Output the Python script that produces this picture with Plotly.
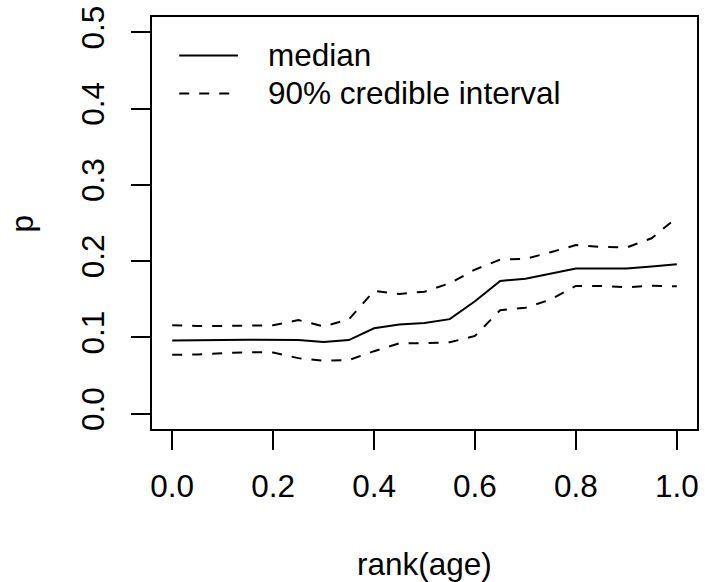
import plotly.graph_objects as go

rank_age = [0.0, 0.05, 0.1, 0.15, 0.2, 0.25, 0.3, 0.35, 0.4, 0.45, 0.5,
            0.55, 0.6, 0.65, 0.7, 0.75, 0.8, 0.85, 0.9, 0.95, 1.0]
median = [0.096, 0.096, 0.0965, 0.097, 0.097, 0.0965, 0.094, 0.0965, 0.112, 0.117, 0.119,
          0.124, 0.1475, 0.174, 0.177, 0.184, 0.1905, 0.1905, 0.1905, 0.193, 0.196]
upper90 = [0.116, 0.115, 0.115, 0.1155, 0.116, 0.1228, 0.1145, 0.1237, 0.161, 0.157, 0.16,
           0.171, 0.189, 0.202, 0.203, 0.2117, 0.221, 0.2187, 0.2178, 0.23, 0.257]
lower90 = [0.0772, 0.0776, 0.0794, 0.0807, 0.0803, 0.0729, 0.0694, 0.0703, 0.082, 0.0924, 0.0924,
           0.0937, 0.102, 0.1358, 0.1389, 0.1497, 0.1675, 0.1675, 0.1658, 0.1679, 0.167]

x_ticks = [0.0, 0.2, 0.4, 0.6, 0.8, 1.0]
x_ticklabels = ["0.0", "0.2", "0.4", "0.6", "0.8", "1.0"]
y_ticks = [0.0, 0.1, 0.2, 0.3, 0.4, 0.5]
y_ticklabels = ["0.0", "0.1", "0.2", "0.3", "0.4", "0.5"]
legend_labels = ["median", "90% credible interval"]

FONT = "Liberation Sans, Arial, sans-serif"
FS = 31.5
DASH = "10px,10px"

fig = go.Figure()
fig.add_trace(go.Scatter(x=rank_age, y=median, mode="lines", name=legend_labels[0],
                         line=dict(color="black", width=2)))
fig.add_trace(go.Scatter(x=rank_age, y=upper90, mode="lines", name=legend_labels[1],
                         line=dict(color="black", width=2, dash=DASH)))
fig.add_trace(go.Scatter(x=rank_age, y=lower90, mode="lines", name=legend_labels[1],
                         line=dict(color="black", width=2, dash=DASH), showlegend=False))

W, H = 705, 582
ml, mr, mt, mb = 152, 6, 14, 153
pw = W - ml - mr
ph = H - mt - mb

def px_to_paper_x(px):
    return (px - ml) / pw

def px_to_paper_y(py):
    return (H - mb - py) / ph

# custom legend (R-style)
for lab, dash, ypx in [(legend_labels[0], "solid", 52.7), (legend_labels[1], DASH, 91)]:
    fig.add_shape(type="line", xref="paper", yref="paper",
                  x0=px_to_paper_x(179.3), x1=px_to_paper_x(238.3),
                  y0=px_to_paper_y(ypx), y1=px_to_paper_y(ypx),
                  line=dict(color="black", width=2, dash=dash))
    fig.add_annotation(xref="paper", yref="paper", x=px_to_paper_x(266), y=px_to_paper_y(ypx),
                       xanchor="left", yanchor="middle", text=lab, showarrow=False,
                       font=dict(family=FONT, size=FS, color="black"))

# axis titles
fig.add_annotation(xref="paper", yref="paper", x=0.5, y=px_to_paper_y(565),
                   xanchor="center", yanchor="middle", text="rank(age)", showarrow=False,
                   font=dict(family=FONT, size=FS, color="black"))
fig.add_annotation(xref="paper", yref="paper", x=px_to_paper_x(22), y=0.5,
                   xanchor="center", yanchor="middle", text="p", textangle=-90, showarrow=False,
                   font=dict(family=FONT, size=FS, color="black"))

fig.update_layout(
    width=W, height=H,
    margin=dict(l=ml, r=mr, t=mt, b=mb, pad=0),
    paper_bgcolor="white", plot_bgcolor="white",
    showlegend=False,
    font=dict(family=FONT, size=FS, color="black"),
)
fig.update_xaxes(range=[-0.04, 1.04], tickvals=x_ticks, ticktext=x_ticklabels,
                 showgrid=False, zeroline=False, showline=True, mirror=True,
                 linecolor="black", linewidth=2, ticks="outside", ticklen=19,
                 tickwidth=2, tickcolor="black", ticklabelstandoff=9,
                 tickfont=dict(family=FONT, size=FS, color="black"))
fig.update_yaxes(range=[-0.02, 0.52], tickvals=y_ticks, ticktext=y_ticklabels,
                 showgrid=False, zeroline=False, showline=True, mirror=True,
                 linecolor="black", linewidth=2, ticks="outside", ticklen=19,
                 tickwidth=2, tickcolor="black", tickangle=-90, ticklabelstandoff=14,
                 tickfont=dict(family=FONT, size=FS, color="black"))

fig.write_html("out.html")
